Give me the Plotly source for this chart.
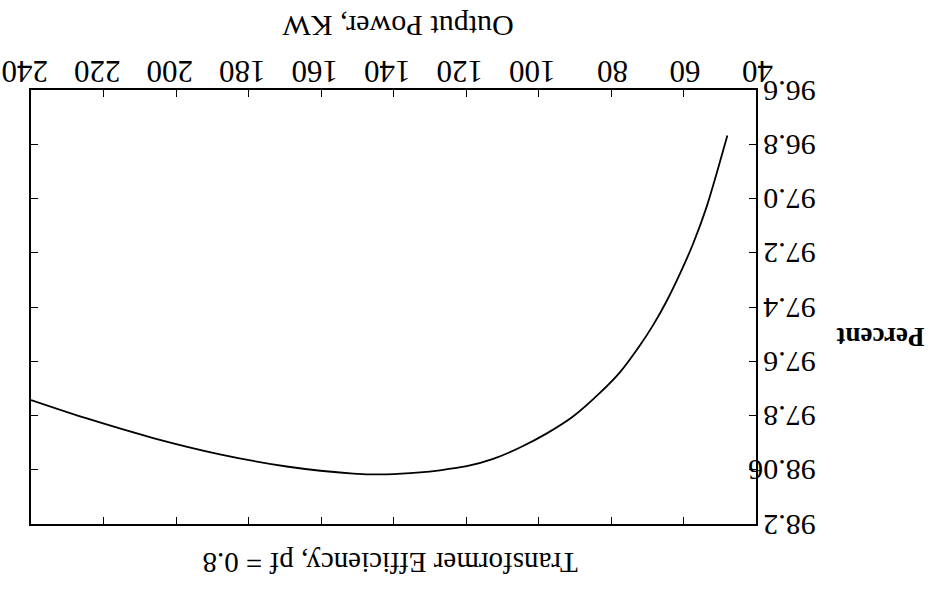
import plotly.graph_objects as go

# Output power (kW) and efficiency (%)
power_kw = [47.9, 50.8, 53.6, 57.3, 61.0, 64.6, 68.3, 72.0, 77.5, 83.0, 90.4, 97.7,
            105.1, 112.5, 119.8, 127.2, 132.7, 141.9, 151.1, 169.5, 187.9, 206.3, 224.6, 240.0]
efficiency_pct = [96.768, 96.905, 97.030, 97.165, 97.278, 97.377, 97.465, 97.541, 97.640, 97.716,
                  97.803, 97.866, 97.918, 97.960, 97.987, 98.002, 98.010, 98.017, 98.014, 97.988,
                  97.943, 97.883, 97.811, 97.743]

x_ticks = [40, 60, 80, 100, 120, 140, 160, 180, 200, 220, 240]
y_tick_vals = [96.6, 96.8, 97.0, 97.2, 97.4, 97.6, 97.8, 98.0, 98.2]
y_tick_text = ["96.6", "96.8", "97.0", "97.2", "97.4", "97.6", "97.8", "98.06", "98.2"]

title_text = "Transformer Efficiency, pf = 0.8"
x_title = "Output Power, KW"
y_title = "<b>Percent</b>"

FONT = "Liberation Serif, Times New Roman, serif"

fig = go.Figure()
fig.add_trace(go.Scatter(
    x=power_kw, y=efficiency_pct, mode="lines",
    line=dict(color="black", width=1.8, shape="spline", smoothing=0.8),
    showlegend=False, hoverinfo="skip",
))

fig.update_layout(
    width=941, height=589,
    margin=dict(l=31, r=185, t=90, b=65, autoexpand=False),
    paper_bgcolor="white", plot_bgcolor="white",
    font=dict(family=FONT, color="black", size=30),
    xaxis=dict(
        range=[240.02, 40], side="top", tickvals=x_ticks, automargin=False,
        ticks="inside", ticklen=7, tickwidth=1.2, tickcolor="black",
        showline=True, linecolor="black", linewidth=1.5, mirror="ticks",
        showgrid=False, zeroline=False, tickangle=180, ticklabelstandoff=-16,
        ticklabelshift=-17, ticklabeloverflow="allow",
        tickfont=dict(family=FONT, size=31, color="black"),
    ),
    yaxis=dict(
        range=[98.2, 96.6], side="right", tickvals=y_tick_vals, ticktext=y_tick_text,
        automargin=False, ticklabeloverflow="allow",
        ticks="inside", ticklen=7, tickwidth=1.2, tickcolor="black",
        showline=True, linecolor="black", linewidth=1.5, mirror="ticks",
        showgrid=False, zeroline=False, tickangle=180, ticklabelstandoff=52,
        ticklabelshift=-10,
        tickfont=dict(family=FONT, size=30, color="black"),
    ),
    annotations=[
        dict(text=x_title, xref="paper", yref="paper", x=0.506, y=1.145,
             xanchor="center", yanchor="middle",
             showarrow=False, textangle=180, font=dict(family=FONT, size=30)),
        dict(text=y_title, xref="paper", yref="paper", x=1.172, y=0.431,
             xanchor="center", yanchor="middle",
             showarrow=False, textangle=180, font=dict(family=FONT, size=27)),
        dict(text=title_text, xref="paper", yref="paper", x=0.495, y=-0.09,
             xanchor="center", yanchor="middle",
             showarrow=False, textangle=180, font=dict(family=FONT, size=29)),
    ],
)

fig.write_html("out.html", config={"displayModeBar": False},
               post_script="document.body.style.margin='0px';")
